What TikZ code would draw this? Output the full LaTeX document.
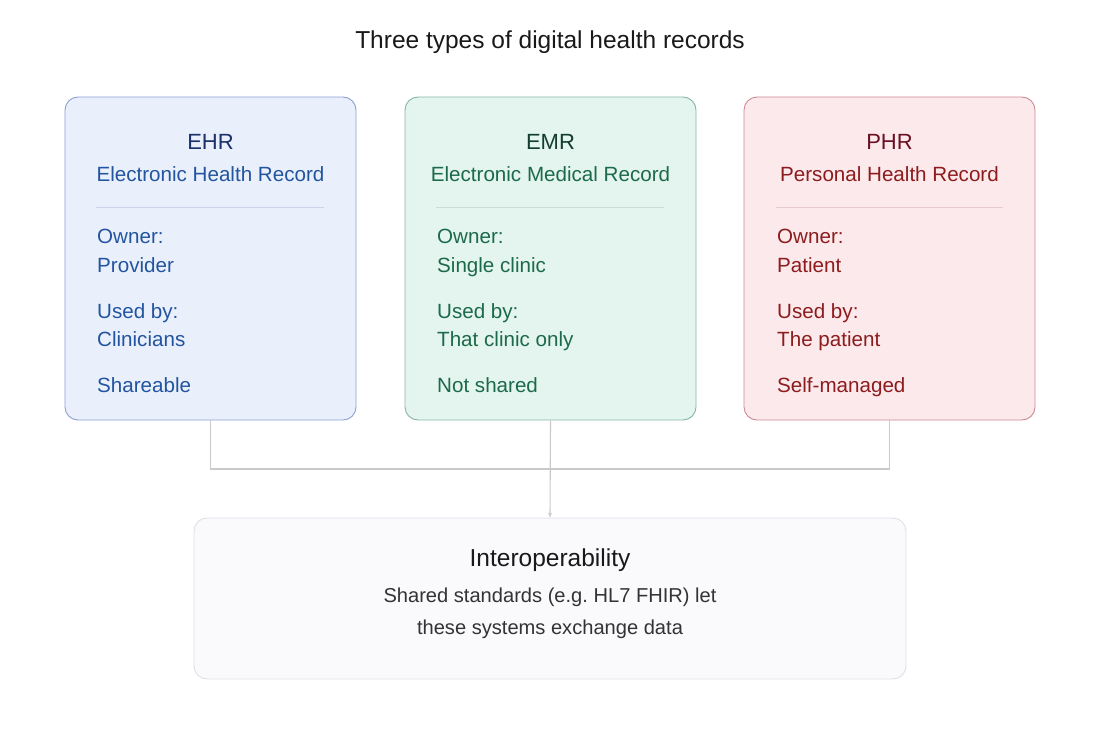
\documentclass[tikz,border=0pt]{standalone}
\usepackage{fontspec}
\setmainfont{Liberation Sans}
\usetikzlibrary{positioning,arrows.meta}

\definecolor{ehrfill}{HTML}{E9F0FB}
\definecolor{ehrline}{HTML}{8E9FD4}
\definecolor{ehrhead}{HTML}{1B2F6B}
\definecolor{ehrtext}{HTML}{23549F}
\definecolor{emrfill}{HTML}{E3F5EE}
\definecolor{emrline}{HTML}{86B7A2}
\definecolor{emrhead}{HTML}{133D2F}
\definecolor{emrtext}{HTML}{1C6A4B}
\definecolor{phrfill}{HTML}{FCE9EB}
\definecolor{phrline}{HTML}{C98A94}
\definecolor{phrhead}{HTML}{6A1020}
\definecolor{phrtext}{HTML}{8C1C1E}
\definecolor{iopfill}{HTML}{FAF9FC}
\definecolor{iopline}{HTML}{E0DFE5}
\definecolor{linkgray}{HTML}{C9C9CC}

\begin{document}
\begin{tikzpicture}[
  x=1pt, y=-1pt,
  >={Stealth[length=5pt,width=4pt]},
  every node/.style={inner sep=0pt},
  card/.style 2 args={draw=#1, fill=#2, rounded corners=13pt, line width=0.9pt,
                      minimum width=291pt, minimum height=323pt},
  head/.style={font=\fontsize{22}{26}\selectfont, anchor=base, text=#1},
  sub/.style={font=\fontsize{20.6}{24}\selectfont, anchor=base, text=#1},
  item/.style={font=\fontsize{20.6}{24}\selectfont, anchor=base west, text=#1},
  divider/.style={draw=#1, line width=0.8pt},
  link/.style={draw=linkgray, line width=1.1pt},
]
\useasboundingbox (0,0) rectangle (1100,744);

% --- Title ---
\node[font=\fontsize{24.5}{28}\selectfont, text=black!90, anchor=base]
  (title) at (550,48) {Three types of digital health records};

% --- EHR card ---
\node[card={ehrline}{ehrfill}] (ehr) at (210.5,258.5) {};
\node[head=ehrhead] (ehrname) at (210.5,149) {EHR};
\node[sub=ehrtext]  (ehrfull) at (210.5,181) {Electronic Health Record};
\draw[divider=ehrline!45] (96,207) -- (324,207);
\node[item=ehrtext] (ehrown)  at (97,243) {Owner:};
\node[item=ehrtext] (ehrownv) at (97,272) {Provider};
\node[item=ehrtext] (ehruse)  at (97,318) {Used by:};
\node[item=ehrtext] (ehrusev) at (97,346) {Clinicians};
\node[item=ehrtext] (ehrshr)  at (97,392) {Shareable};

% --- EMR card ---
\node[card={emrline}{emrfill}] (emr) at (550.5,258.5) {};
\node[head=emrhead] (emrname) at (550.5,149) {EMR};
\node[sub=emrtext]  (emrfull) at (550.5,181) {Electronic Medical Record};
\draw[divider=emrline!45] (436,207) -- (664,207);
\node[item=emrtext] (emrown)  at (437,243) {Owner:};
\node[item=emrtext] (emrownv) at (437,272) {Single clinic};
\node[item=emrtext] (emruse)  at (437,318) {Used by:};
\node[item=emrtext] (emrusev) at (437,346) {That clinic only};
\node[item=emrtext] (emrshr)  at (437,392) {Not shared};

% --- PHR card ---
\node[card={phrline}{phrfill}] (phr) at (889.5,258.5) {};
\node[head=phrhead] (phrname) at (889.5,149) {PHR};
\node[sub=phrtext]  (phrfull) at (889.5,181) {Personal Health Record};
\draw[divider=phrline!45] (776,207) -- (1003,207);
\node[item=phrtext] (phrown)  at (777,243) {Owner:};
\node[item=phrtext] (phrownv) at (777,272) {Patient};
\node[item=phrtext] (phruse)  at (777,318) {Used by:};
\node[item=phrtext] (phrusev) at (777,346) {The patient};
\node[item=phrtext] (phrshr)  at (777,392) {Self-managed};

% --- Interoperability box ---
\node[draw=iopline, fill=iopfill, rounded corners=13pt, line width=0.9pt,
      minimum width=712pt, minimum height=161pt] (iop) at (550,598.5) {};
\node[font=\fontsize{24.5}{28}\selectfont, text=black!90, anchor=base]
  (ioptitle) at (550,566) {Interoperability};
\node[font=\fontsize{20.1}{24}\selectfont, text=black!80, anchor=base]
  (iopline1) at (550,602) {Shared standards (e.g.\ HL7 FHIR) let};
\node[font=\fontsize{20.1}{24}\selectfont, text=black!80, anchor=base]
  (iopline2) at (550,634) {these systems exchange data};

% --- Connectors ---
\coordinate (bus) at (0,469);
\draw[link] (ehr.south) -- (ehr.south |- bus) -- (phr.south |- bus) -- (phr.south);
\draw[link, ->] (emr.south) -- (iop.north);

\end{tikzpicture}
\end{document}
